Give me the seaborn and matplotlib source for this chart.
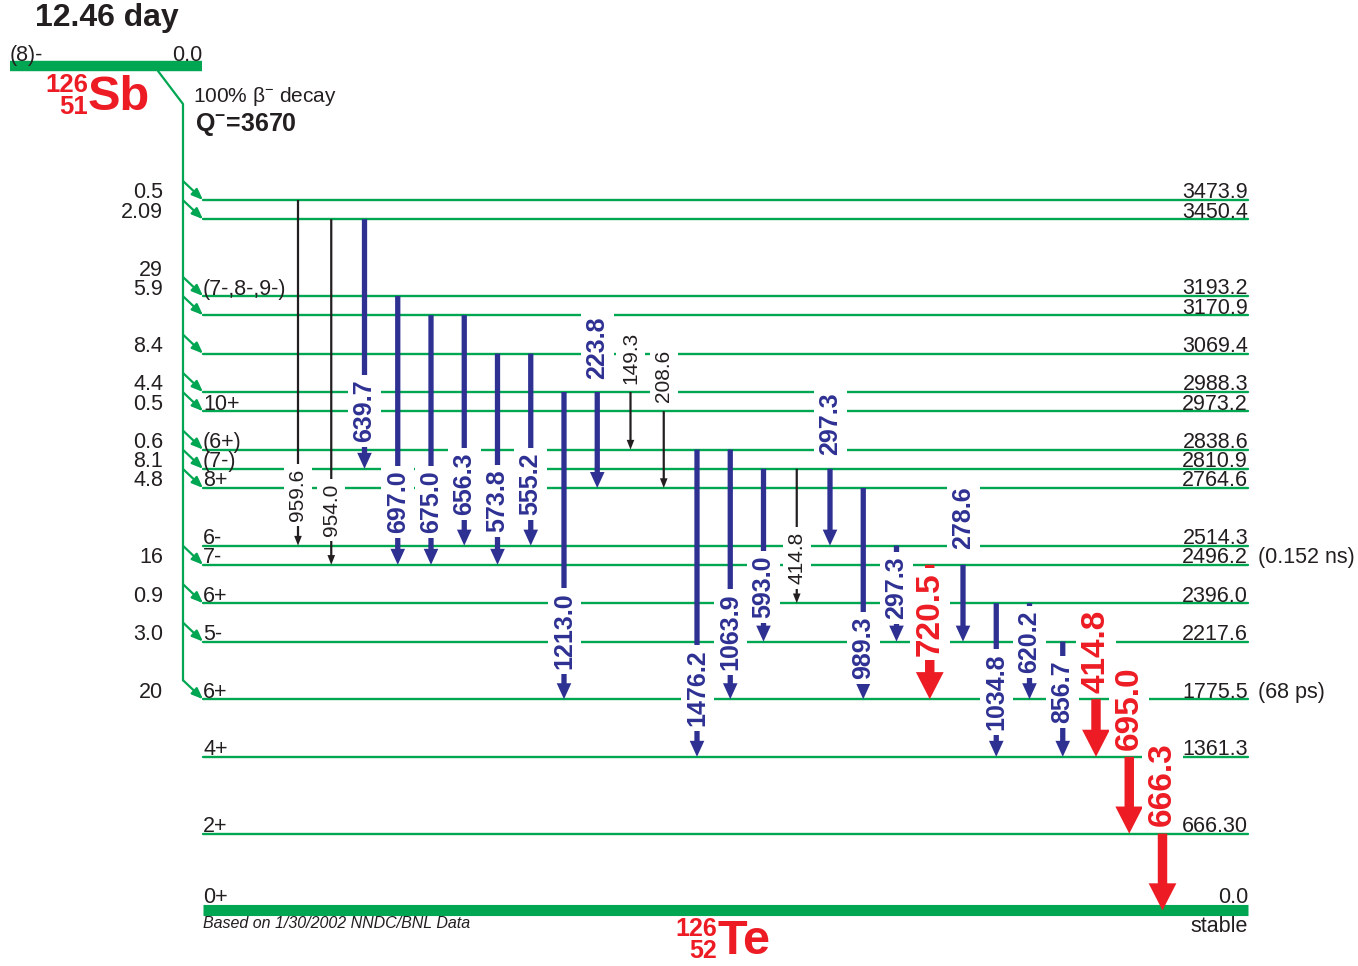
import pandas as pd
import seaborn as sns
import matplotlib.pyplot as plt

# 126Te levels fed in the decay of 126Sb (keV), top to bottom
level_energy = [3473.9, 3450.4, 3193.2, 3170.9, 3069.4, 2988.3, 2973.2, 2838.6, 2810.9,
                2764.6, 2514.3, 2496.2, 2396.0, 2217.6, 1775.5, 1361.3, 666.30, 0.0]
level_text = ["3473.9", "3450.4", "3193.2", "3170.9", "3069.4", "2988.3", "2973.2", "2838.6", "2810.9",
              "2764.6", "2514.3", "2496.2", "2396.0", "2217.6", "1775.5", "1361.3", "666.30", "0.0"]
level_spin = ["", "", "(7-,8-,9-)", "", "", "", "10+", "(6+)", "(7-)",
              "8+", "6-", "7-", "6+", "5-", "6+", "4+", "2+", "0+"]
beta_feed = ["0.5", "2.09", "29", "5.9", "8.4", "4.4", "0.5", "0.6", "8.1",
             "4.8", "", "16", "0.9", "3.0", "20", "", "", ""]
half_life = {"2496.2": "(0.152 ns)", "1775.5": "(68 ps)"}

# gamma transitions, left to right
gamma_text = ["959.6", "954.0", "639.7", "697.0", "675.0", "656.3", "573.8", "555.2", "1213.0",
              "223.8", "149.3", "208.6", "1476.2", "1063.9", "593.0", "414.8", "297.3", "989.3",
              "297.3", "720.5", "278.6", "1034.8", "620.2", "856.7", "414.8", "695.0", "666.3"]
gamma_from = [3473.9, 3450.4, 3450.4, 3193.2, 3170.9, 3170.9, 3069.4, 3069.4, 2988.3,
              2988.3, 2988.3, 2973.2, 2838.6, 2838.6, 2810.9, 2810.9, 2810.9, 2764.6,
              2514.3, 2496.2, 2496.2, 2396.0, 2396.0, 2217.6, 1775.5, 1361.3, 666.30]
gamma_to = [2514.3, 2496.2, 2810.9, 2496.2, 2496.2, 2514.3, 2496.2, 2514.3, 1775.5,
            2764.6, 2838.6, 2764.6, 1361.3, 1775.5, 2217.6, 2396.0, 2514.3, 1775.5,
            2217.6, 1775.5, 2217.6, 1361.3, 1775.5, 1361.3, 1361.3, 666.30, 0.0]
gamma_kind = ["weak", "weak", "mid", "mid", "mid", "mid", "mid", "mid", "mid",
              "mid", "weak", "weak", "mid", "mid", "mid", "weak", "mid", "mid",
              "mid", "strong", "mid", "mid", "mid", "mid", "strong", "strong", "strong"]

# drawing layout (pixels)
level_row = [0, 1, 5, 6, 8, 10, 11, 13, 14, 15, 18, 19, 21, 23, 26, 29, 33, 37]
feed_shift = [-7, -7, -26, -26, -7, -7, -7, -7, -7, -7, -7, -7, -7, -7, -7, -7, -7, -7]
gamma_label_y = [495, 510, 411, 502, 502, 484, 501, 484, 631, 348, 358, 376, 688, 632, 587, 558, 424,
                 648, 588, 614, 518, 692, 642, 692, 651, 708, 784]

GREEN = "#00a651"
BLUE = "#2e3192"
RED = "#ed1c24"
INK = "#231f20"
FS = 15.5
STYLE = {
    "weak": dict(color=INK, tail=1.6, hw=5.5, hl=7, size=15, weight="normal", pad=0.22),
    "mid": dict(color=BLUE, tail=3.8, hw=10.5, hl=11.5, size=18, weight="bold", pad=0.18),
    "strong": dict(color=RED, tail=6.8, hw=20, hl=19.5, size=24, weight="bold", pad=0.14),
}

sns.set_theme(style="white")
plt.rcParams["font.family"] = ["Liberation Sans", "DejaVu Sans"]
plt.rcParams["mathtext.fontset"] = "custom"
plt.rcParams["mathtext.rm"] = "Liberation Sans"
plt.rcParams["mathtext.bf"] = "Liberation Sans:bold"
plt.rcParams["mathtext.default"] = "regular"

X0, X1 = 203, 1248
level_y = {e: 200 + 19.2 * r for e, r in zip(level_energy, level_row)}


def col_x(i):
    return 298 + 33.25 * i


fig = plt.figure(figsize=(13.58, 9.66), dpi=100)
ax = fig.add_axes([0, 0, 1, 1])

# level lines
rows = []
for e in level_energy[:-1]:
    rows.append({"x": X0, "y": level_y[e], "level": e})
    rows.append({"x": X1, "y": level_y[e], "level": e})
lv = pd.DataFrame(rows)
sns.lineplot(data=lv, x="x", y="y", units="level", estimator=None, color=GREEN,
             lw=1.7, ax=ax, legend=False, zorder=1)
ax.hlines(level_y[0.0], X0, X1, color=GREEN, lw=8, capstyle="butt", zorder=1)

for e, t, s in zip(level_energy, level_text, level_spin):
    y = level_y[e] - (7 if e == 0.0 else 1.5)
    ax.text(X1, y, t, ha="right", va="baseline", fontsize=FS, color=INK, zorder=5)
    if s:
        ax.text(X0, y, s, ha="left", va="baseline", fontsize=FS, color=INK, zorder=5)
    if t in half_life:
        ax.text(X1 + 10, y, half_life[t], ha="left", va="baseline", fontsize=FS, color=INK)
ax.text(X1, 927, "stable", ha="right", va="center", fontsize=FS, color=INK)
ax.text(X0, 924, "Based on 1/30/2002 NNDC/BNL Data", ha="left", va="center",
        fontsize=11.5, style="italic", color=INK)

# parent level and beta feeding
ax.hlines(66, 10, 202, color=GREEN, lw=7.5, capstyle="butt")
ax.text(10, 61, "(8)-", ha="left", va="baseline", fontsize=FS, color=INK)
ax.text(202, 61, "0.0", ha="right", va="baseline", fontsize=FS, color=INK)
ax.text(35, 18, "12.46 day", ha="left", va="center", fontsize=23, weight="bold", color=INK)
ax.text(88, 97, "Sb", ha="left", va="center", fontsize=35, weight="bold", color=RED)
ax.text(88, 85, "126", ha="right", va="center", fontsize=18.5, weight="bold", color=RED)
ax.text(88, 107, "51", ha="right", va="center", fontsize=18.5, weight="bold", color=RED)
ax.text(193, 97, "100% β$^{-}$ decay", ha="left", va="center", fontsize=15, color=INK)
ax.text(195, 125, "Q$^{-}$=3670", ha="left", va="center", fontsize=18, weight="bold", color=INK)

ax.text(718, 942, "Te", ha="left", va="center", fontsize=35, weight="bold", color=RED)
ax.text(717, 929, "126", ha="right", va="center", fontsize=18, weight="bold", color=RED)
ax.text(717, 951, "52", ha="right", va="center", fontsize=18, weight="bold", color=RED)

fed = [(e, f, d) for e, f, d in zip(level_energy, beta_feed, feed_shift) if f]
bottom = max(level_y[e] for e, _, _ in fed) - 19
ax.plot([158, 183, 183], [71, 104, bottom], color=GREEN, lw=1.6, solid_joinstyle="miter")
for e, f, d in fed:
    y = level_y[e]
    ax.annotate("", xy=(X0, y), xytext=(183, y - 19),
                arrowprops=dict(arrowstyle="-|>,head_length=0.55,head_width=0.22", mutation_scale=12,
                                color=GREEN, lw=1.6, shrinkA=0, shrinkB=0))
    ax.text(163, y + d, f, ha="right", va="center", fontsize=FS, color=INK)

# gamma transitions
for i, (t, a, b, k, ly) in enumerate(zip(gamma_text, gamma_from, gamma_to, gamma_kind, gamma_label_y)):
    st = STYLE[k]
    x = col_x(i)
    ax.annotate("", xy=(x, level_y[b]), xytext=(x, level_y[a]),
                arrowprops=dict(arrowstyle=f"simple,head_length={st['hl']},head_width={st['hw']},"
                                           f"tail_width={st['tail']}",
                                mutation_scale=1, fc=st["color"], ec="none", lw=0,
                                shrinkA=0, shrinkB=0), zorder=3)
    ax.text(x, ly, t, rotation=90, ha="center", va="center", fontsize=st["size"],
            weight=st["weight"], color=st["color"], zorder=4,
            bbox=dict(boxstyle=f"square,pad={st['pad']}", fc="white", ec="none"))

ax.set_xlim(0, 1358)
ax.set_ylim(966, 0)
ax.axis("off")
fig.savefig("out.png", dpi=100, facecolor="white")
